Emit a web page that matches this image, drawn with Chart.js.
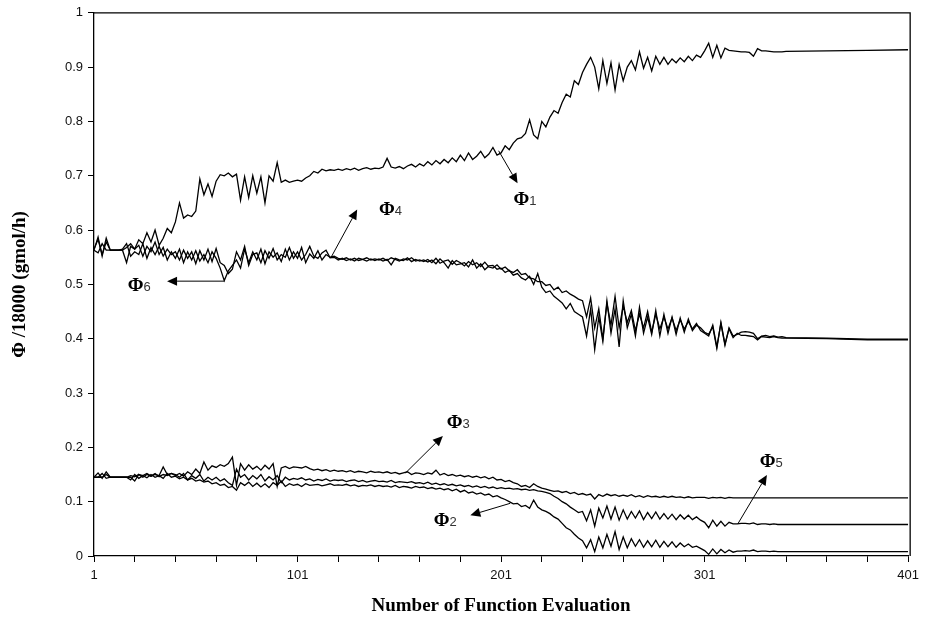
<!DOCTYPE html>
<html>
<head>
<meta charset="utf-8">
<script src="https://cdn.jsdelivr.net/npm/chart.js@4/dist/chart.umd.min.js"></script>
<style>
 html,body{margin:0;padding:0;background:#fff;}
 #wrap{width:925px;height:622px;}
</style>
</head>
<body>
<div id="wrap"><canvas id="grafico"></canvas></div>
<script>
// evaluaciones muestreadas cada 2 hasta 341, luego cola plana
const evals = [];
for(let e = 1; e <= 341; e += 2) evals.push(e);
evals.push(361, 381, 401);

const xTicks = [1,21,41,61,81,101,121,141,161,181,201,221,241,261,281,301,321,341,361,381,401];
const xLabels = [1,101,201,301,401];

const phi1 = [
 0.565,0.583,0.555,0.578,0.563,0.563,0.563,0.563,0.568,0.575,
 0.565,0.582,0.575,0.595,0.578,0.600,0.572,0.585,0.603,0.595,
 0.615,0.650,0.622,0.628,0.625,0.635,0.694,0.665,0.685,0.662,
 0.690,0.702,0.700,0.705,0.698,0.703,0.655,0.698,0.660,0.700,
 0.668,0.698,0.650,0.700,0.690,0.724,0.688,0.692,0.688,0.690,
 0.692,0.690,0.696,0.700,0.708,0.705,0.712,0.709,0.711,0.710,
 0.712,0.710,0.713,0.711,0.714,0.710,0.713,0.715,0.712,0.714,
 0.713,0.716,0.732,0.716,0.714,0.717,0.713,0.718,0.721,0.716,
 0.722,0.718,0.726,0.720,0.728,0.722,0.730,0.724,0.733,0.726,
 0.738,0.728,0.742,0.730,0.736,0.745,0.733,0.740,0.752,0.738,
 0.742,0.755,0.748,0.760,0.768,0.770,0.778,0.803,0.775,0.768,
 0.800,0.790,0.808,0.820,0.815,0.835,0.850,0.845,0.875,0.868,
 0.890,0.905,0.918,0.900,0.860,0.912,0.870,0.908,0.858,0.905,
 0.875,0.900,0.912,0.895,0.928,0.898,0.918,0.893,0.920,0.905,
 0.918,0.905,0.915,0.908,0.917,0.910,0.920,0.912,0.922,0.918,
 0.930,0.944,0.918,0.940,0.917,0.935,0.931,0.930,0.929,0.928,
 0.928,0.927,0.920,0.934,0.930,0.930,0.929,0.928,0.928,0.928,
 0.929,0.930,0.931,0.932
];
const phi2 = [
 0.145,0.145,0.145,0.150,0.145,0.145,0.145,0.145,0.145,0.140,
 0.150,0.143,0.148,0.144,0.150,0.145,0.148,0.143,0.152,0.145,
 0.147,0.142,0.145,0.140,0.143,0.138,0.140,0.136,0.138,0.133,
 0.135,0.130,0.132,0.126,0.128,0.121,0.135,0.130,0.136,0.128,
 0.134,0.127,0.133,0.126,0.135,0.130,0.138,0.128,0.133,0.130,
 0.132,0.128,0.133,0.130,0.131,0.132,0.129,0.131,0.133,0.130,
 0.131,0.130,0.132,0.129,0.131,0.128,0.130,0.129,0.131,0.128,
 0.130,0.128,0.129,0.127,0.130,0.126,0.128,0.127,0.125,0.128,
 0.126,0.127,0.124,0.126,0.123,0.125,0.122,0.124,0.120,0.123,
 0.118,0.121,0.116,0.118,0.114,0.116,0.112,0.114,0.109,0.111,
 0.107,0.104,0.100,0.096,0.097,0.091,0.093,0.088,0.103,0.090,
 0.085,0.082,0.078,0.072,0.068,0.060,0.052,0.048,0.040,0.033,
 0.028,0.015,0.030,0.008,0.035,0.015,0.040,0.018,0.045,0.012,
 0.035,0.015,0.032,0.018,0.030,0.016,0.028,0.017,0.029,0.016,
 0.027,0.017,0.026,0.016,0.024,0.017,0.022,0.016,0.018,0.014,
 0.010,0.003,0.013,0.004,0.012,0.006,0.011,0.007,0.009,0.009,
 0.010,0.009,0.011,0.008,0.009,0.009,0.008,0.009,0.008,0.008,
 0.008,0.008,0.008,0.008
];
const phi3 = [
 0.145,0.153,0.143,0.155,0.145,0.145,0.145,0.145,0.145,0.148,
 0.146,0.150,0.148,0.152,0.147,0.150,0.148,0.164,0.150,0.152,
 0.148,0.152,0.147,0.155,0.150,0.160,0.152,0.173,0.158,0.166,
 0.163,0.168,0.165,0.170,0.182,0.130,0.170,0.158,0.168,0.160,
 0.165,0.158,0.167,0.160,0.170,0.128,0.162,0.165,0.161,0.164,
 0.163,0.162,0.165,0.161,0.158,0.160,0.157,0.159,0.156,0.158,
 0.156,0.157,0.155,0.157,0.154,0.156,0.155,0.153,0.156,0.154,
 0.155,0.153,0.155,0.152,0.154,0.151,0.153,0.155,0.150,0.153,
 0.152,0.150,0.153,0.151,0.158,0.149,0.152,0.148,0.150,0.147,
 0.149,0.146,0.148,0.145,0.147,0.144,0.146,0.142,0.145,0.140,
 0.141,0.137,0.139,0.135,0.133,0.128,0.130,0.126,0.133,0.128,
 0.125,0.123,0.121,0.119,0.120,0.117,0.119,0.115,0.117,0.113,
 0.115,0.112,0.114,0.105,0.113,0.110,0.114,0.111,0.113,0.110,
 0.112,0.110,0.113,0.109,0.111,0.108,0.111,0.109,0.110,0.108,
 0.110,0.108,0.110,0.108,0.109,0.107,0.109,0.107,0.108,0.108,
 0.108,0.106,0.108,0.107,0.108,0.106,0.108,0.107,0.107,0.107,
 0.107,0.107,0.107,0.107,0.107,0.107,0.107,0.107,0.107,0.107,
 0.107,0.107,0.107,0.107
];
const phi4 = [
 0.563,0.558,0.575,0.563,0.563,0.563,0.563,0.565,0.575,0.552,
 0.560,0.555,0.575,0.548,0.568,0.555,0.570,0.552,0.565,0.555,
 0.560,0.545,0.563,0.548,0.560,0.538,0.562,0.545,0.565,0.542,
 0.566,0.540,0.535,0.520,0.528,0.560,0.545,0.570,0.535,0.555,
 0.558,0.540,0.562,0.548,0.566,0.545,0.555,0.550,0.568,0.548,
 0.560,0.545,0.555,0.570,0.552,0.548,0.558,0.563,0.549,0.550,
 0.545,0.548,0.544,0.547,0.543,0.548,0.546,0.543,0.547,0.544,
 0.547,0.543,0.546,0.536,0.548,0.545,0.544,0.549,0.542,0.546,
 0.543,0.545,0.541,0.545,0.538,0.547,0.540,0.530,0.544,0.536,
 0.538,0.540,0.532,0.545,0.530,0.538,0.527,0.534,0.535,0.528,
 0.530,0.522,0.526,0.517,0.520,0.512,0.508,0.515,0.500,0.520,
 0.495,0.485,0.488,0.478,0.472,0.466,0.455,0.465,0.450,0.445,
 0.440,0.405,0.455,0.380,0.440,0.395,0.470,0.410,0.455,0.385,
 0.470,0.420,0.445,0.405,0.458,0.410,0.440,0.408,0.452,0.405,
 0.445,0.410,0.440,0.408,0.438,0.412,0.436,0.415,0.425,0.420,
 0.412,0.408,0.422,0.382,0.430,0.390,0.418,0.402,0.410,0.406,
 0.406,0.405,0.404,0.398,0.404,0.403,0.402,0.404,0.402,0.401,
 0.401,0.400,0.398,0.398
];
const phi5 = [
 0.145,0.145,0.152,0.143,0.145,0.145,0.145,0.145,0.145,0.145,
 0.138,0.150,0.145,0.150,0.147,0.152,0.146,0.150,0.148,0.152,
 0.150,0.145,0.152,0.140,0.148,0.143,0.150,0.138,0.145,0.140,
 0.145,0.138,0.142,0.135,0.130,0.160,0.145,0.150,0.140,0.148,
 0.142,0.150,0.138,0.146,0.140,0.148,0.135,0.145,0.140,0.143,
 0.141,0.144,0.140,0.142,0.138,0.141,0.139,0.142,0.138,0.140,
 0.139,0.140,0.137,0.139,0.140,0.137,0.139,0.136,0.138,0.139,
 0.137,0.138,0.136,0.139,0.135,0.137,0.136,0.135,0.137,0.134,
 0.135,0.133,0.136,0.132,0.134,0.131,0.133,0.130,0.132,0.129,
 0.131,0.128,0.130,0.127,0.129,0.126,0.128,0.125,0.127,0.124,
 0.126,0.124,0.125,0.123,0.124,0.122,0.123,0.121,0.122,0.120,
 0.119,0.117,0.115,0.110,0.106,0.100,0.096,0.090,0.085,0.080,
 0.082,0.065,0.085,0.055,0.088,0.070,0.092,0.068,0.090,0.066,
 0.085,0.068,0.082,0.070,0.083,0.067,0.080,0.069,0.081,0.068,
 0.078,0.068,0.077,0.067,0.076,0.068,0.075,0.067,0.072,0.066,
 0.062,0.052,0.066,0.055,0.064,0.055,0.062,0.059,0.059,0.060,
 0.060,0.059,0.061,0.058,0.059,0.059,0.058,0.059,0.058,0.058,
 0.058,0.058,0.058,0.058
];
const phi6 = [
 0.563,0.587,0.552,0.585,0.563,0.563,0.563,0.563,0.540,0.570,
 0.565,0.572,0.552,0.570,0.560,0.578,0.555,0.568,0.545,0.560,
 0.548,0.565,0.540,0.560,0.545,0.562,0.543,0.555,0.540,0.560,
 0.548,0.530,0.507,0.525,0.535,0.545,0.530,0.565,0.540,0.560,
 0.545,0.565,0.538,0.560,0.550,0.558,0.542,0.565,0.545,0.560,
 0.548,0.568,0.540,0.556,0.548,0.562,0.545,0.555,0.550,0.552,
 0.548,0.546,0.549,0.545,0.548,0.544,0.546,0.549,0.545,0.547,
 0.545,0.548,0.544,0.549,0.546,0.543,0.547,0.545,0.549,0.543,
 0.545,0.542,0.546,0.540,0.548,0.539,0.543,0.545,0.537,0.544,
 0.540,0.534,0.542,0.536,0.540,0.533,0.541,0.532,0.530,0.536,
 0.528,0.532,0.525,0.522,0.527,0.518,0.520,0.512,0.510,0.505,
 0.505,0.498,0.500,0.490,0.495,0.485,0.488,0.482,0.478,0.473,
 0.470,0.440,0.475,0.420,0.455,0.400,0.465,0.425,0.478,0.420,
 0.460,0.430,0.452,0.415,0.445,0.420,0.450,0.412,0.445,0.418,
 0.440,0.418,0.438,0.415,0.435,0.418,0.432,0.418,0.428,0.415,
 0.410,0.405,0.425,0.385,0.428,0.388,0.420,0.405,0.408,0.412,
 0.413,0.412,0.410,0.400,0.405,0.406,0.404,0.405,0.403,0.404,
 0.402,0.401,0.399,0.399
];

// etiquetas con flecha (coordenadas en datos: evaluacion, valor)
const notas = [
 {num:"1", tx:207.1, ty:0.658, from:[199.8,0.746], to:[209.1,0.686]},
 {num:"4", tx:141.0, ty:0.639, from:[117.5,0.550], to:[130.3,0.638]},
 {num:"6", tx:17.6,  ty:0.500, from:[65.1,0.506],  to:[36.9,0.506]},
 {num:"3", tx:174.3, ty:0.248, from:[154.1,0.153], to:[172.4,0.221]},
 {num:"2", tx:167.9, ty:0.068, from:[205.5,0.097], to:[185.9,0.075]},
 {num:"5", tx:328.1, ty:0.175, from:[317.3,0.059], to:[331.6,0.149]}
];

function serie(vals){
 return {
  data: evals.map((e,i) => ({x:e, y:vals[i]})),
  borderColor:"#000", borderWidth:1.3, pointRadius:0, tension:0, fill:false
 };
}

const marco = {
 id:"marco",
 afterDraw(chart){
  const {ctx, chartArea:a, scales} = chart;
  ctx.save();
  ctx.strokeStyle = "#000";
  ctx.lineWidth = 1.3;
  ctx.beginPath();
  ctx.moveTo(a.left, a.top); ctx.lineTo(a.right + 2, a.top); ctx.lineTo(a.right + 2, a.bottom);
  ctx.stroke();

  notas.forEach(n => {
   const x1 = scales.x.getPixelForValue(n.from[0]), y1 = scales.y.getPixelForValue(n.from[1]);
   const x2 = scales.x.getPixelForValue(n.to[0]),   y2 = scales.y.getPixelForValue(n.to[1]);
   const ang = Math.atan2(y2-y1, x2-x1);
   const L = 10, W = 4.5;
   const bx = x2 - L*Math.cos(ang), by = y2 - L*Math.sin(ang);
   ctx.lineWidth = 1;
   ctx.beginPath(); ctx.moveTo(x1,y1); ctx.lineTo(bx,by); ctx.stroke();
   ctx.fillStyle = "#000";
   ctx.beginPath();
   ctx.moveTo(x2,y2);
   ctx.lineTo(bx + W*Math.sin(ang), by - W*Math.cos(ang));
   ctx.lineTo(bx - W*Math.sin(ang), by + W*Math.cos(ang));
   ctx.closePath(); ctx.fill();

   const tx = scales.x.getPixelForValue(n.tx), ty = scales.y.getPixelForValue(n.ty);
   ctx.textBaseline = "alphabetic";
   ctx.textAlign = "left";
   ctx.font = "bold 19px 'Liberation Serif'";
   ctx.fillStyle = "#000";
   ctx.fillText("\u03A6", tx, ty + 6.5);
   const w = ctx.measureText("\u03A6").width;
   ctx.font = "13px 'Liberation Sans'";
   ctx.fillStyle = "#333";
   ctx.fillText(n.num, tx + w, ty + 6.5);
  });
  ctx.restore();
 }
};

new Chart(document.getElementById("grafico"), {
 type:"line",
 data:{ datasets:[serie(phi1), serie(phi2), serie(phi3), serie(phi4), serie(phi5), serie(phi6)] },
 options:{
  responsive:true, maintainAspectRatio:false, animation:false,
  layout:{ padding:{left:0, right:12, top:12, bottom:0} },
  plugins:{ legend:{display:false}, tooltip:{enabled:false} },
  scales:{
   x:{
    type:"linear", min:1, max:401,
    afterFit: s => { s.height = 66; },
    afterBuildTicks: s => { s.ticks = xTicks.map(v => ({value:v})); },
    ticks:{ autoSkip:false, maxRotation:0, padding:6, color:"#111",
            font:{family:"'Liberation Sans'", size:13},
            callback: v => xLabels.includes(v) ? String(v) : "" },
    grid:{ drawOnChartArea:false, tickLength:6, color:"#000", lineWidth:1 },
    border:{ color:"#000", width:1.3 },
    title:{ display:true, text:"Number of Function Evaluation", color:"#000",
            font:{family:"'Liberation Serif'", size:19, weight:"bold"}, padding:{top:0, bottom:5} }
   },
   y:{
    min:0, max:1,
    afterFit: s => { s.width = 94; },
    ticks:{ stepSize:0.1, padding:5, color:"#111",
            font:{family:"'Liberation Sans'", size:13},
            callback: v => String(Math.round(v*10)/10) },
    grid:{ drawOnChartArea:false, tickLength:6, color:"#000", lineWidth:1 },
    border:{ color:"#000", width:1.3 },
    title:{ display:true, text:"\u03A6 /18000 (gmol/h)", color:"#000",
            font:{family:"'Liberation Serif'", size:19, weight:"bold"}, padding:{top:9, bottom:0} }
   }
  }
 },
 plugins:[marco]
});
</script>
</body>
</html>
